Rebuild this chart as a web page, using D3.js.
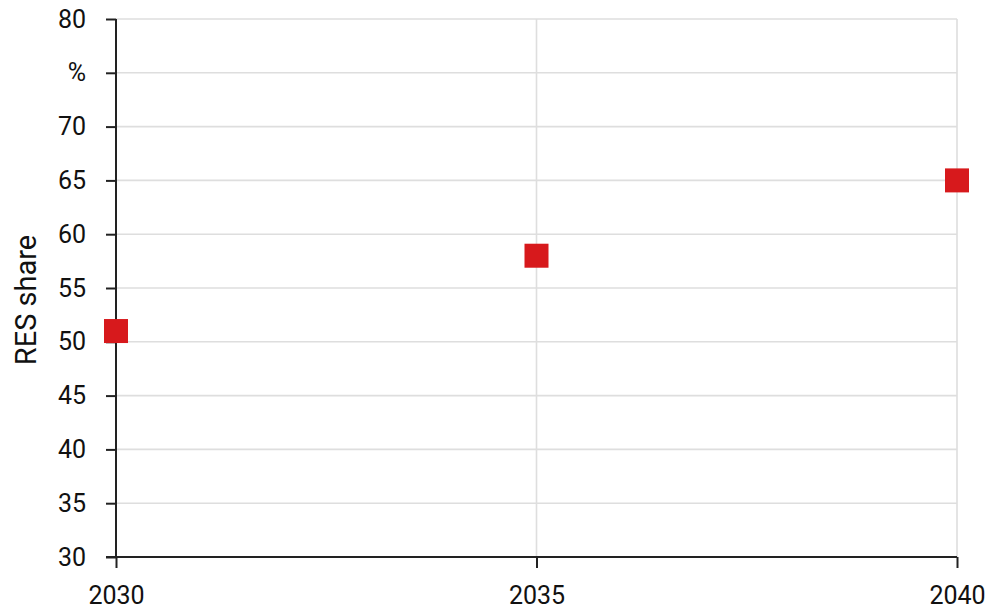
<!DOCTYPE html>
<html>
<head>
<meta charset="utf-8">
<script src="https://cdn.jsdelivr.net/npm/d3@7"></script>
<style>
  body { margin: 0; background: #fff; }
  text { font-family: Roboto, sans-serif; fill: #111; }
</style>
</head>
<body>
<svg id="chart" width="993" height="613"></svg>
<script>
// data
var years = [2030, 2035, 2040];
var resShare = [51, 58, 65];
var yTicks = [30, 35, 40, 45, 50, 55, 60, 65, 70, 75, 80];
var yTickLabels = ["30", "35", "40", "45", "50", "55", "60", "65", "70", "%", "80"];

var svg = d3.select("#chart");
var m = { left: 116, right: 957, top: 19, bottom: 557 };

var x = d3.scaleLinear().domain([2030, 2040]).range([m.left, m.right]);
var y = d3.scaleLinear().domain([30, 80]).range([m.bottom, m.top]);

// horizontal grid
svg.append("g").selectAll("line").data(yTicks.slice(1)).join("line")
  .attr("x1", m.left).attr("x2", m.right)
  .attr("y1", function (d) { return y(d); }).attr("y2", function (d) { return y(d); })
  .attr("stroke", "#dedede").attr("stroke-width", 1.6);

// vertical grid
svg.append("g").selectAll("line").data(years.slice(1)).join("line")
  .attr("x1", function (d) { return x(d); }).attr("x2", function (d) { return x(d); })
  .attr("y1", m.top).attr("y2", m.bottom)
  .attr("stroke", "#dedede").attr("stroke-width", 1.6);

// y axis
var yAxis = d3.axisLeft(y).tickValues(yTicks).tickSize(10).tickPadding(20)
  .tickFormat(function (d, i) { return yTickLabels[i]; });
var gy = svg.append("g").attr("transform", "translate(" + m.left + ",0)").call(yAxis)
  .attr("font-size", 25).attr("font-family", "Roboto, sans-serif");
gy.select(".domain").remove();
gy.selectAll(".tick line").attr("stroke", "#222").attr("stroke-width", 2);
gy.selectAll(".tick text").attr("fill", "#111");

// x axis
var xAxis = d3.axisBottom(x).tickValues(years).tickSize(11).tickPadding(18)
  .tickFormat(d3.format("d"));
var gx = svg.append("g").attr("transform", "translate(0," + m.bottom + ")").call(xAxis)
  .attr("font-size", 25).attr("font-family", "Roboto, sans-serif");
gx.select(".domain").remove();
gx.selectAll(".tick line").attr("stroke", "#222").attr("stroke-width", 2);
gx.selectAll(".tick text").attr("fill", "#111");

// axis lines
svg.append("line").attr("x1", m.left).attr("x2", m.left).attr("y1", m.top).attr("y2", m.bottom)
  .attr("stroke", "#222").attr("stroke-width", 2);
svg.append("line").attr("x1", m.left - 10).attr("x2", m.right).attr("y1", m.bottom).attr("y2", m.bottom)
  .attr("stroke", "#222").attr("stroke-width", 2);

// markers
var size = 24;
svg.append("g").selectAll("rect").data(years).join("rect")
  .attr("x", function (d) { return x(d) - size / 2; })
  .attr("y", function (d, i) { return y(resShare[i]) - size / 2; })
  .attr("width", size).attr("height", size)
  .attr("fill", "#d7191c");

// y title
svg.append("text")
  .attr("transform", "translate(36,300) rotate(-90)")
  .attr("text-anchor", "middle")
  .attr("font-size", 29)
  .text("RES share");
</script>
</body>
</html>
